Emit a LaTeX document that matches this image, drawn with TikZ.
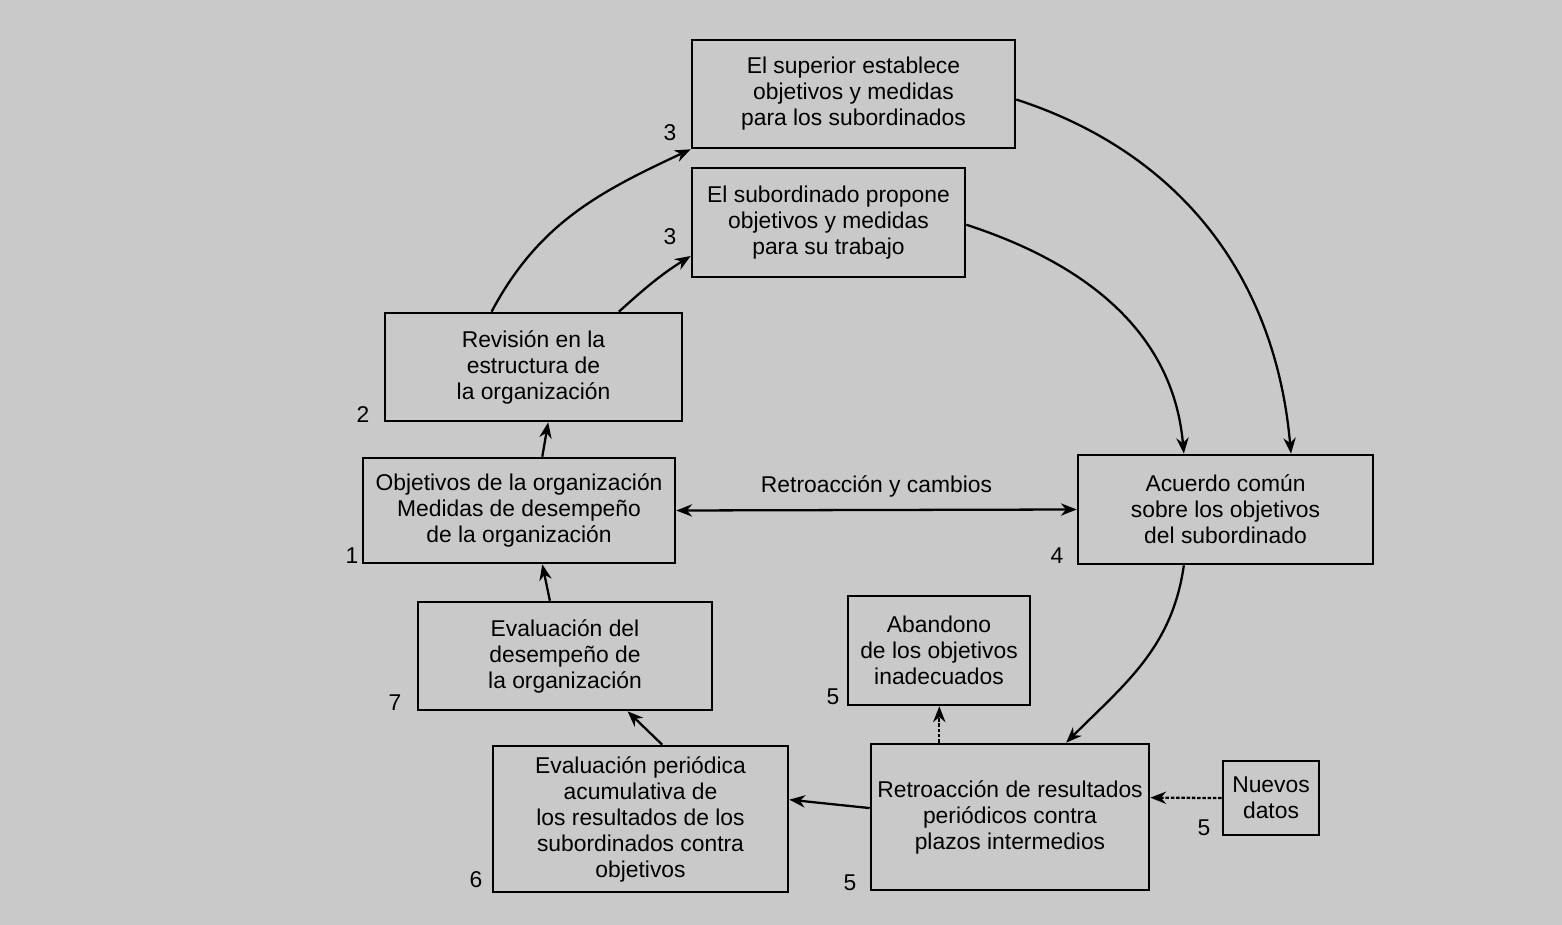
\documentclass[tikz,border=0pt]{standalone}
\usepackage{fontspec}
\setmainfont{Liberation Sans}
\usetikzlibrary{calc,arrows.meta}
\definecolor{bg}{gray}{0.79}
\tikzset{
  box/.style={draw=black, line width=1.5pt, inner sep=0pt, align=center,
    font=\fontsize{13}{14.8}\selectfont},
  num/.style={font=\fontsize{13}{14.8}\selectfont, inner sep=1pt},
  arr/.style={line width=1.3pt, -{Stealth[length=9pt,width=7pt]}},
  darr/.style={line width=1.3pt, {Stealth[length=9pt,width=7pt]}-{Stealth[length=9pt,width=7pt]}},
  dotarr/.style={arr, dash pattern=on 2pt off 1pt},
}
\begin{document}
\begin{tikzpicture}[x=0.02cm,y=-0.02cm]
\fill[bg] (0,0) rectangle (1562,925);
\useasboundingbox (0,0) rectangle (1562,925);

\node[box, minimum width=6.46cm, minimum height=2.16cm] (sup) at (853.5,94) {El superior establece\\objetivos y medidas\\para los subordinados};
\node[box, minimum width=5.46cm, minimum height=2.18cm] (sub) at (828.5,222.5) {El subordinado propone\\objetivos y medidas\\para su trabajo};
\node[box, minimum width=5.94cm, minimum height=2.16cm] (rev) at (533.5,367) {Revisión en la\\estructura de\\la organización};
\node[box, minimum width=6.24cm, minimum height=2.10cm] (obj) at (519,510.5) {Objetivos de la organización\\Medidas de desempeño\\de la organización};
\node[box, minimum width=5.90cm, minimum height=2.18cm] (acu) at (1225.5,509.5) {Acuerdo común\\sobre los objetivos\\del subordinado};
\node[box, minimum width=5.88cm, minimum height=2.16cm] (evd) at (565,656) {Evaluación del\\desempeño de\\la organización};
\node[box, minimum width=5.90cm, minimum height=2.92cm] (evp) at (640.5,819) {Evaluación periódica\\acumulativa de\\los resultados de los\\subordinados contra\\objetivos};
\node[box, minimum width=3.64cm, minimum height=2.18cm] (aba) at (939,650.5) {Abandono\\de los objetivos\\inadecuados};
\node[box, minimum width=5.56cm, minimum height=2.92cm] (ret) at (1010,817) {Retroacción de resultados\\periódicos contra\\plazos intermedios};
\node[box, minimum width=1.92cm, minimum height=1.48cm] (nue) at (1271,798) {Nuevos\\datos};

% numbers
\node[num] (n3a) at (670,133) {3};
\node[num] (n3b) at (670,237) {3};
\node[num] (n2) at (363,415) {2};
\node[num] (n1) at (352,556) {1};
\node[num] (n4) at (1057,556) {4};
\node[num] (n7) at (395,703) {7};
\node[num] (n6) at (476,880) {6};
\node[num] (n5a) at (833,697) {5};
\node[num] (n5b) at (850,883) {5};
\node[num] (n5c) at (1204,828) {5};

% connectors
\coordinate (r1) at ($(rev.north west)!0.36!(rev.north east)$);
\coordinate (r2) at ($(rev.north west)!0.785!(rev.north east)$);
\coordinate (s2) at ($(sub.north west)!0.8!(sub.south west)$);
\draw[arr] (r1) to[out=62,in=205] (sup.south west);
\draw[arr] (r2) to[out=42,in=212] (s2);

\coordinate (supE) at ($(sup.north east)!0.55!(sup.south east)$);
\coordinate (subE) at ($(sub.north east)!0.52!(sub.south east)$);
\coordinate (a1) at ($(acu.north west)!0.72!(acu.north east)$);
\coordinate (a2) at ($(acu.north west)!0.36!(acu.north east)$);
\draw[arr] (supE) to[out=-18,in=95] (a1);
\draw[arr] (subE) to[out=-18,in=95] (a2);

\coordinate (ab) at ($(acu.south west)!0.36!(acu.south east)$);
\coordinate (rt) at ($(ret.north west)!0.70!(ret.north east)$);
\draw[arr] (ab) to[out=-98,in=45] (rt);

\draw[darr] (obj.east) -- (acu.west) node[midway, above=3pt, font=\fontsize{13}{14.8}\selectfont] (rc) {Retroacción y cambios};

\coordinate (o1) at ($(obj.north west)!0.574!(obj.north east)$);
\coordinate (rb) at ($(rev.south west)!0.549!(rev.south east)$);
\draw[arr] (o1) -- (rb);

\coordinate (e1) at ($(evd.north west)!0.449!(evd.north east)$);
\coordinate (ob) at ($(obj.south west)!0.574!(obj.south east)$);
\draw[arr] (e1) -- (ob);

\coordinate (p1) at ($(evp.north west)!0.573!(evp.north east)$);
\coordinate (eb) at ($(evd.south west)!0.711!(evd.south east)$);
\draw[arr] (p1) -- (eb);

\coordinate (rw) at ($(ret.north west)!0.44!(ret.south west)$);
\coordinate (pe) at ($(evp.north east)!0.37!(evp.south east)$);
\draw[arr] (rw) -- (pe);

\coordinate (rn) at ($(ret.north west)!0.248!(ret.north east)$);
\draw[dotarr] (rn) -- (rn |- aba.south);

\coordinate (re) at ($(ret.north east)!0.37!(ret.south east)$);
\draw[dotarr] (nue.west) -- (re);
\end{tikzpicture}
\end{document}
